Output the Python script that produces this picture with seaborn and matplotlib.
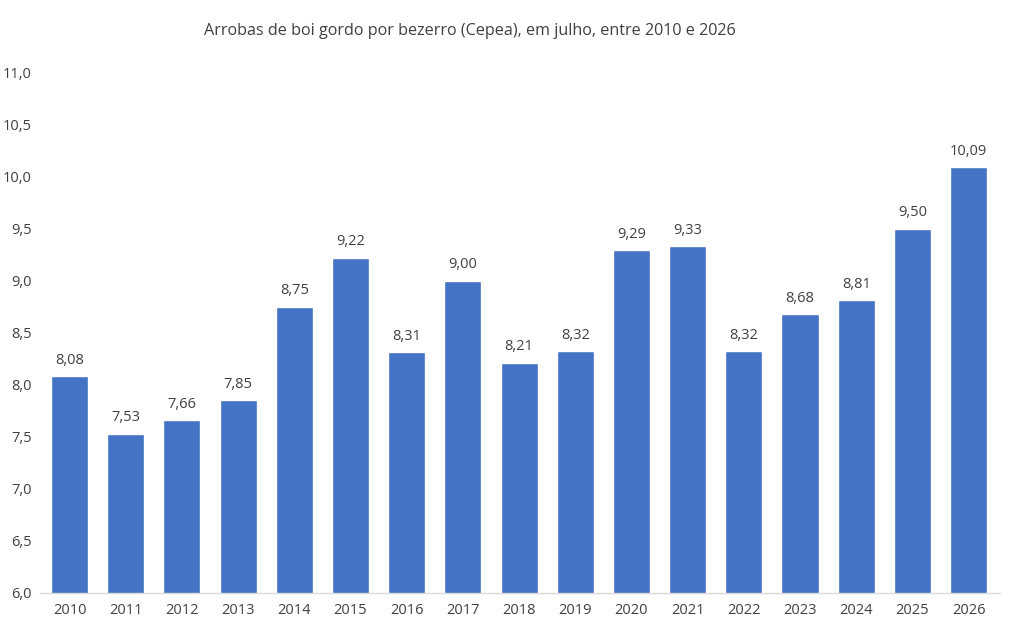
import matplotlib
matplotlib.use("Agg")
import matplotlib.pyplot as plt
import seaborn as sns
import pandas as pd
from matplotlib.ticker import FixedLocator

years = [str(y) for y in range(2010, 2027)]
values = [8.08, 7.53, 7.66, 7.85, 8.75, 9.22, 8.31, 9.00, 8.21, 8.32,
          9.29, 9.33, 8.32, 8.68, 8.81, 9.50, 10.09]
yticks = [6.0, 6.5, 7.0, 7.5, 8.0, 8.5, 9.0, 9.5, 10.0, 10.5, 11.0]
title = "Arrobas de boi gordo por bezerro (Cepea), em julho, entre 2010 e 2026"

sns.set_theme(style="white")
plt.rcParams['font.family'] = ['Open Sans', 'DejaVu Sans']

df = pd.DataFrame({"ano": years, "valor": values})
fig = plt.figure(figsize=(10.11, 6.30), dpi=100)
ax = fig.add_axes([0.0396, 0.059, 0.9496, 0.826])
sns.barplot(data=df, x="ano", y="valor", color="#4472C4", saturation=1,
            width=0.66, ax=ax)
ax.set_ylim(6.0, 11.0)
ax.set_xlim(-0.525, 16.56)
ax.yaxis.set_major_locator(FixedLocator(yticks))
ax.set_yticklabels([f"{t:.1f}".replace(".", ",") for t in yticks])
ax.set_xlabel("")
ax.set_ylabel("")
for s in ["top", "right", "left"]:
    ax.spines[s].set_visible(False)
ax.spines["bottom"].set_color("#D9D9D9")
ax.spines["bottom"].set_linewidth(1)
ax.tick_params(axis="both", length=0, labelsize=10.5, colors="#404040", pad=7)
ax.tick_params(axis="y", pad=6)
for i, v in enumerate(values):
    ax.text(i, v + 0.08, f"{v:.2f}".replace(".", ","), ha="center", va="bottom",
            fontsize=10.5, color="#404040")
fig.text(0.465, 0.951, title, ha="center", va="center", fontsize=11.65, color="#404040")
fig.savefig("out.png", dpi=100, facecolor="white")
